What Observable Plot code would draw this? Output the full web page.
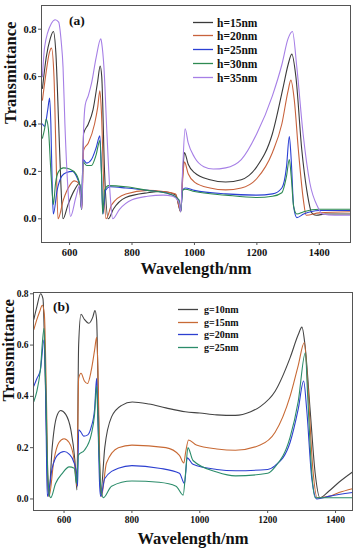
<!DOCTYPE html>
<html>
<head>
<meta charset="utf-8">
<script src="https://cdn.jsdelivr.net/npm/d3@7"></script>
<script src="https://cdn.jsdelivr.net/npm/@observablehq/plot@0.6"></script>
<style>
  html, body { margin: 0; padding: 0; background: #fff; }
  #wrap { position: relative; width: 356px; height: 550px; font-family: "Liberation Serif", serif; font-weight: bold; color: #111; }
  #wrap svg { display: block; }
</style>
</head>
<body>
<div id="wrap"></div>
<script>
// ---------- Panel (a): thickness h ----------
const seriesA = ["h=15nm", "h=20nm", "h=25nm", "h=30nm", "h=35nm"];
const colorsA = ["#3a3a3a", "#c8623c", "#2b40d4", "#2e8a52", "#a67fe6"];
const xTicksA = [600, 800, 1000, 1200, 1400];
const yTicksA = [0.0, 0.2, 0.4, 0.6, 0.8];

const h15 = [[513,0.55],[525,0.68],[538,0.76],[548,0.79],[556,0.70],[565,0.40],[572,0.15],[579,0.0],[595,0.06],[615,0.12],[632,0.15],[639,0.04],[645,0.36],[660,0.40],[675,0.46],[690,0.58],[698,0.645],[703,0.60],[712,0.20],[724,0.0],[740,0.04],[780,0.09],[850,0.11],[900,0.115],[940,0.10],[956,0.03],[962,0.18],[968,0.28],[980,0.23],[1000,0.195],[1050,0.165],[1100,0.155],[1150,0.165],[1200,0.22],[1250,0.36],[1285,0.56],[1300,0.65],[1312,0.695],[1325,0.60],[1344,0.29],[1360,0.12],[1376,0.025],[1390,0.015],[1420,0.02],[1500,0.02]];
const h20 = [[513,0.50],[525,0.62],[535,0.70],[542,0.72],[550,0.60],[556,0.30],[563,0.0],[580,0.08],[600,0.14],[615,0.16],[630,0.15],[639,0.04],[645,0.29],[660,0.32],[680,0.40],[690,0.47],[697,0.54],[702,0.45],[710,0.12],[717,0.0],[735,0.06],[780,0.105],[850,0.12],[900,0.115],[940,0.105],[956,0.03],[962,0.16],[968,0.24],[980,0.19],[1000,0.155],[1050,0.13],[1100,0.122],[1150,0.13],[1200,0.17],[1250,0.28],[1280,0.40],[1300,0.54],[1309,0.585],[1320,0.50],[1333,0.29],[1349,0.08],[1358,0.015],[1400,0.025],[1500,0.03]];
const h25 = [[513,0.40],[520,0.39],[530,0.46],[536,0.51],[540,0.40],[545,0.10],[548,0.02],[560,0.12],[575,0.18],[590,0.195],[610,0.20],[625,0.17],[633,0.14],[638,0.04],[643,0.25],[655,0.235],[670,0.25],[685,0.30],[697,0.35],[702,0.20],[707,0.02],[715,0.12],[730,0.135],[780,0.13],[850,0.12],[920,0.105],[950,0.08],[956,0.03],[962,0.12],[970,0.13],[1000,0.12],[1100,0.105],[1200,0.10],[1250,0.105],[1280,0.13],[1295,0.22],[1304,0.347],[1310,0.25],[1318,0.05],[1328,0.005],[1350,0.02],[1400,0.035],[1500,0.035]];
const h30 = [[513,0.34],[520,0.38],[525,0.42],[532,0.38],[540,0.20],[545,0.10],[548,0.06],[555,0.15],[565,0.20],[580,0.215],[600,0.21],[620,0.19],[633,0.14],[638,0.04],[643,0.24],[655,0.225],[670,0.225],[685,0.27],[697,0.33],[702,0.20],[706,0.02],[712,0.12],[725,0.14],[780,0.135],[850,0.12],[920,0.105],[950,0.08],[956,0.03],[962,0.12],[970,0.125],[1000,0.115],[1100,0.10],[1200,0.09],[1250,0.095],[1280,0.11],[1295,0.18],[1304,0.25],[1310,0.18],[1318,0.05],[1328,0.02],[1350,0.03],[1400,0.04],[1500,0.04]];
const h35 = [[513,0.60],[520,0.725],[542,0.825],[554,0.84],[565,0.83],[573,0.75],[579,0.64],[585,0.40],[595,0.12],[603,0.01],[620,0.09],[632,0.14],[639,0.04],[645,0.38],[650,0.48],[660,0.52],[670,0.57],[685,0.68],[700,0.76],[703,0.74],[710,0.64],[720,0.35],[730,0.10],[738,0.0],[760,0.04],[800,0.08],[850,0.095],[900,0.10],[930,0.095],[950,0.07],[956,0.03],[962,0.20],[970,0.38],[980,0.32],[1000,0.26],[1030,0.22],[1060,0.21],[1100,0.215],[1150,0.25],[1200,0.36],[1250,0.52],[1280,0.65],[1300,0.76],[1314,0.79],[1328,0.64],[1348,0.36],[1370,0.15],[1395,0.05],[1410,0.02],[1450,0.015],[1500,0.015]];

// ---------- Panel (b): gap g ----------
const seriesB = ["g=10nm", "g=15nm", "g=20nm", "g=25nm"];
const colorsB = ["#444444", "#c86a35", "#2c3fd0", "#2b8c6a"];
const xTicksB = [600, 800, 1000, 1200, 1400];
const yTicksB = [0.0, 0.2, 0.4, 0.6, 0.8];

const g10 = [[511,0.70],[520,0.75],[531,0.80],[538,0.78],[545,0.45],[551,0.10],[555,0.01],[565,0.20],[578,0.32],[590,0.345],[605,0.33],[620,0.27],[632,0.15],[638,0.035],[643,0.60],[650,0.72],[660,0.70],[673,0.685],[685,0.71],[691,0.735],[696,0.70],[702,0.30],[708,0.02],[720,0.20],[740,0.32],[770,0.365],[801,0.378],[850,0.37],[900,0.355],[957,0.34],[1000,0.335],[1050,0.328],[1105,0.326],[1150,0.34],[1178,0.36],[1222,0.42],[1266,0.55],[1290,0.64],[1301,0.67],[1310,0.60],[1325,0.35],[1340,0.10],[1354,0.005],[1380,0.03],[1410,0.065],[1450,0.105]];
const g15 = [[511,0.66],[520,0.70],[528,0.73],[536,0.755],[542,0.72],[548,0.40],[553,0.05],[556,0.01],[570,0.15],[585,0.22],[600,0.235],[615,0.22],[630,0.15],[638,0.05],[643,0.47],[650,0.49],[660,0.46],[669,0.45],[680,0.50],[690,0.58],[696,0.63],[700,0.50],[705,0.15],[710,0.01],[725,0.14],[760,0.20],[800,0.21],[900,0.20],[940,0.17],[953,0.14],[958,0.18],[967,0.23],[990,0.21],[1050,0.195],[1105,0.19],[1178,0.21],[1222,0.26],[1266,0.40],[1290,0.52],[1308,0.61],[1318,0.45],[1333,0.12],[1346,0.005],[1380,0.01],[1410,0.025],[1450,0.04]];
const g20 = [[511,0.44],[520,0.47],[530,0.50],[541,0.62],[546,0.40],[549,0.10],[551,0.01],[565,0.12],[580,0.17],[600,0.185],[615,0.175],[630,0.14],[637,0.10],[640,0.05],[643,0.27],[650,0.26],[658,0.245],[670,0.25],[680,0.28],[690,0.35],[696,0.47],[700,0.30],[705,0.05],[708,0.01],[720,0.08],[760,0.12],[800,0.13],[880,0.12],[940,0.10],[955,0.06],[963,0.16],[980,0.135],[1050,0.115],[1105,0.11],[1200,0.115],[1222,0.13],[1266,0.22],[1290,0.35],[1306,0.46],[1315,0.35],[1330,0.08],[1345,0.0],[1380,0.01],[1450,0.025]];
const g25 = [[511,0.38],[520,0.42],[530,0.50],[541,0.665],[546,0.45],[552,0.10],[558,0.01],[561,0.005],[575,0.06],[595,0.10],[615,0.125],[630,0.12],[637,0.06],[642,0.17],[660,0.19],[680,0.25],[690,0.33],[696,0.44],[700,0.30],[708,0.05],[716,0.005],[740,0.05],[800,0.07],[880,0.065],[930,0.05],[951,0.015],[958,0.10],[965,0.20],[980,0.15],[1050,0.105],[1105,0.09],[1200,0.10],[1222,0.125],[1266,0.24],[1290,0.38],[1311,0.57],[1318,0.40],[1330,0.10],[1340,0.005],[1450,0.005]];

function table(names, arrays) {
  const rows = [];
  names.forEach((n, i) => arrays[i].forEach(([w, v]) => rows.push({series: n, w, v})));
  return rows;
}
const dataA = table(seriesA, [h15, h20, h25, h30, h35]);
const dataB = table(seriesB, [g10, g15, g20, g25]);

const font = "'Liberation Serif', 'Times New Roman', serif";

// custom legend + panel tag mark (layout only, pixel positions relative to the SVG)
function legendMark(names, colors, lg) {
  return () => {
    const g = d3.create("svg:g").attr("font-weight", "bold").attr("fill", "#111").attr("text-anchor", "start");
    names.forEach((n, i) => {
      const y = Math.round(lg.y0 + i * lg.step) + 0.5;
      g.append("line").attr("x1", lg.x0).attr("x2", lg.x0 + lg.len).attr("y1", y).attr("y2", y)
        .attr("stroke", colors[i]).attr("stroke-width", 1.3);
      g.append("text").attr("x", lg.x0 + lg.len + lg.gap).attr("y", y).attr("dy", "0.35em")
        .attr("text-anchor", "start").attr("font-size", lg.font).text(n);
    });
    g.append("text").attr("x", lg.tagX).attr("y", lg.tagY).attr("dy", "0.35em")
      .attr("text-anchor", "start").attr("font-size", 13.5).text(lg.tag);
    return g.node();
  };
}

function panel(o) {
  return Plot.plot({
    width: 356, height: o.height,
    marginLeft: o.ml, marginRight: o.mr, marginTop: o.mt, marginBottom: o.mb,
    style: `font-family: ${font}; font-weight: bold; font-size: ${o.tickFont}px; color: #111; background: #fff; overflow: visible;`,
    x: {domain: o.xDomain},
    y: {domain: o.yDomain},
    color: {domain: o.names, range: o.colors},
    marks: [
      Plot.line(o.data, {x: "w", y: "v", stroke: "series", z: "series", curve: "monotone-x", strokeWidth: 1.1}),
      Plot.frame({stroke: "#555", strokeWidth: 1}),
      Plot.axisX({ticks: o.xTicks, tickSize: 3, tickPadding: 3, label: null, tickFormat: d3.format("d"), stroke: "#555"}),
      Plot.axisY({ticks: o.yTicks, tickSize: 3, tickPadding: 2, label: null, tickFormat: d3.format(".1f"), stroke: "#555"}),
      Plot.text(["Wavelength/nm"], {text: d => d, frameAnchor: "bottom", dy: o.xLabelDy, lineAnchor: "middle", fontSize: o.labelFont, fontWeight: "bold", fill: "#111"}),
      Plot.text(["Transmittance"], {text: d => d, frameAnchor: "left", dx: o.yLabelDx, rotate: -90, lineAnchor: "middle", fontSize: o.labelFont, fontWeight: "bold", fill: "#111"}),
      legendMark(o.names, o.colors, o.legend)
    ]
  });
}

const wrap = document.getElementById("wrap");
const pa = panel({height: 278, ml: 41, mr: 6, mt: 5, mb: 36, tickFont: 10.5, labelFont: 16.5,
  xDomain: [510, 1500], yDomain: [-0.1, 0.9], names: seriesA, colors: colorsA, data: dataA,
  xTicks: xTicksA, yTicks: yTicksA, xLabelDy: 26, yLabelDx: -31,
  legend: {x0: 193, y0: 21.5, step: 13.9, len: 20, gap: 4, font: 11.5, tag: "(a)", tagX: 69, tagY: 20}});
const pb = panel({height: 272, ml: 33, mr: 4, mt: 14, mb: 40, tickFont: 9.5, labelFont: 16.5,
  xDomain: [510, 1450], yDomain: [-0.045, 0.805], names: seriesB, colors: colorsB, data: dataB,
  xTicks: xTicksB, yTicks: yTicksB, xLabelDy: 28, yLabelDx: -25,
  legend: {x0: 178, y0: 31, step: 12.7, len: 20, gap: 6, font: 10, tag: "(b)", tagX: 53, tagY: 28}});
wrap.appendChild(pa);
wrap.appendChild(pb);
</script>
</body>
</html>
